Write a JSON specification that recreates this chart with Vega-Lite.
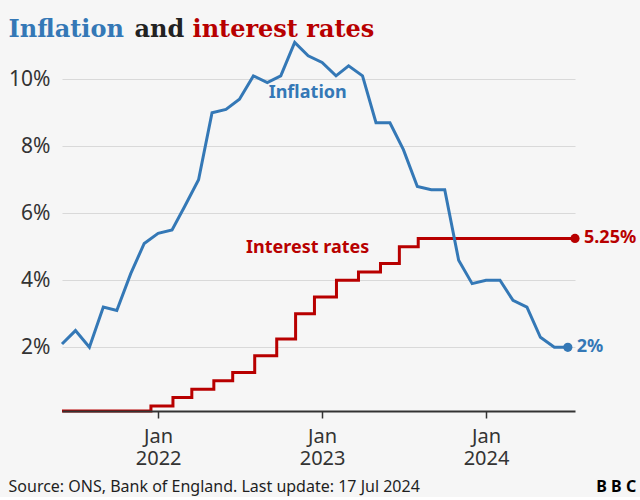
{
  "$schema": "https://vega.github.io/schema/vega-lite/v6.json",
  "background": "#f6f6f6",
  "padding": {"left": 8, "right": 4, "top": 18, "bottom": 2},
  "config": {"view": {"stroke": null}, "font": "Noto Sans", "concat": {"spacing": 0}},
  "datasets": {
    "inflation": [
      {"date": "2021-06-01", "value": 2.1, "series": "Inflation"},
      {"date": "2021-07-01", "value": 2.5, "series": "Inflation"},
      {"date": "2021-08-01", "value": 2.0, "series": "Inflation"},
      {"date": "2021-09-01", "value": 3.2, "series": "Inflation"},
      {"date": "2021-10-01", "value": 3.1, "series": "Inflation"},
      {"date": "2021-11-01", "value": 4.2, "series": "Inflation"},
      {"date": "2021-12-01", "value": 5.1, "series": "Inflation"},
      {"date": "2022-01-01", "value": 5.4, "series": "Inflation"},
      {"date": "2022-02-01", "value": 5.5, "series": "Inflation"},
      {"date": "2022-03-01", "value": 6.2, "series": "Inflation"},
      {"date": "2022-04-01", "value": 7.0, "series": "Inflation"},
      {"date": "2022-05-01", "value": 9.0, "series": "Inflation"},
      {"date": "2022-06-01", "value": 9.1, "series": "Inflation"},
      {"date": "2022-07-01", "value": 9.4, "series": "Inflation"},
      {"date": "2022-08-01", "value": 10.1, "series": "Inflation"},
      {"date": "2022-09-01", "value": 9.9, "series": "Inflation"},
      {"date": "2022-10-01", "value": 10.1, "series": "Inflation"},
      {"date": "2022-11-01", "value": 11.1, "series": "Inflation"},
      {"date": "2022-12-01", "value": 10.7, "series": "Inflation"},
      {"date": "2023-01-01", "value": 10.5, "series": "Inflation"},
      {"date": "2023-02-01", "value": 10.1, "series": "Inflation"},
      {"date": "2023-03-01", "value": 10.4, "series": "Inflation"},
      {"date": "2023-04-01", "value": 10.1, "series": "Inflation"},
      {"date": "2023-05-01", "value": 8.7, "series": "Inflation"},
      {"date": "2023-06-01", "value": 8.7, "series": "Inflation"},
      {"date": "2023-07-01", "value": 7.9, "series": "Inflation"},
      {"date": "2023-08-01", "value": 6.8, "series": "Inflation"},
      {"date": "2023-09-01", "value": 6.7, "series": "Inflation"},
      {"date": "2023-10-01", "value": 6.7, "series": "Inflation"},
      {"date": "2023-11-01", "value": 4.6, "series": "Inflation"},
      {"date": "2023-12-01", "value": 3.9, "series": "Inflation"},
      {"date": "2024-01-01", "value": 4.0, "series": "Inflation"},
      {"date": "2024-02-01", "value": 4.0, "series": "Inflation"},
      {"date": "2024-03-01", "value": 3.4, "series": "Inflation"},
      {"date": "2024-04-01", "value": 3.2, "series": "Inflation"},
      {"date": "2024-05-01", "value": 2.3, "series": "Inflation"},
      {"date": "2024-06-01", "value": 2.0, "series": "Inflation"},
      {"date": "2024-07-01", "value": 2.0, "series": "Inflation"}
    ],
    "rates": [
      {"date": "2021-06-01", "value": 0.1, "series": "Interest rates"},
      {"date": "2021-12-16", "value": 0.25, "series": "Interest rates"},
      {"date": "2022-02-03", "value": 0.5, "series": "Interest rates"},
      {"date": "2022-03-17", "value": 0.75, "series": "Interest rates"},
      {"date": "2022-05-05", "value": 1.0, "series": "Interest rates"},
      {"date": "2022-06-16", "value": 1.25, "series": "Interest rates"},
      {"date": "2022-08-04", "value": 1.75, "series": "Interest rates"},
      {"date": "2022-09-22", "value": 2.25, "series": "Interest rates"},
      {"date": "2022-11-03", "value": 3.0, "series": "Interest rates"},
      {"date": "2022-12-15", "value": 3.5, "series": "Interest rates"},
      {"date": "2023-02-02", "value": 4.0, "series": "Interest rates"},
      {"date": "2023-03-23", "value": 4.25, "series": "Interest rates"},
      {"date": "2023-05-11", "value": 4.5, "series": "Interest rates"},
      {"date": "2023-06-22", "value": 5.0, "series": "Interest rates"},
      {"date": "2023-08-03", "value": 5.25, "series": "Interest rates"},
      {"date": "2024-07-17", "value": 5.25, "series": "Interest rates"}
    ],
    "ends": [
      {"date": "2024-07-01", "value": 2.0, "series": "Inflation", "label": "2%"},
      {"date": "2024-07-17", "value": 5.25, "series": "Interest rates", "label": "5.25%"}
    ],
    "names": [
      {"date": "2022-11-30", "value": 9.59, "series": "Inflation", "label": "Inflation"},
      {"date": "2022-11-30", "value": 4.97, "series": "Interest rates", "label": "Interest rates"}
    ]
  },
  "title": {"text": "Source: ONS, Bank of England. Last update: 17 Jul 2024", "orient": "bottom", "anchor": "start", "font": "Noto Sans", "fontSize": 16, "fontWeight": "normal", "color": "#1f1f1f", "offset": 0, "dy": -16},
  "vconcat": [
    {
      "title": {"text": "B B C", "orient": "bottom", "anchor": "end", "font": "Noto Sans", "fontSize": 16, "fontWeight": "bold", "color": "#000000", "offset": 11},
      "vconcat": [
        {
          "title": {"text": "Inflation", "anchor": "start", "font": "DejaVu Serif", "fontSize": 24, "fontWeight": "bold", "color": "#3478b6", "offset": 0, "dy": 24},
          "vconcat": [
            {
              "title": {"text": "and", "anchor": "start", "font": "DejaVu Serif", "fontSize": 24, "fontWeight": "bold", "color": "#222222", "offset": 0, "dx": 126, "dy": 24},
              "vconcat": [
                {
                  "title": {"text": "interest rates", "anchor": "start", "font": "DejaVu Serif", "fontSize": 24, "fontWeight": "bold", "color": "#b80000", "offset": -6, "dx": 184},
                  "width": 513,
                  "height": 372,
                  "encoding": {
                    "x": {"field": "date", "type": "temporal",
                      "scale": {"type": "utc", "domain": [{"year": 2021, "month": 6, "date": 1, "utc": true}, {"year": 2024, "month": 7, "date": 17, "utc": true}]},
                      "axis": {"title": null, "zindex": 1, "grid": false, "domainColor": "#333333", "domainWidth": 2, "tickColor": "#333333", "tickWidth": 1.5, "tickSize": 7, "labelPadding": 8, "labelFont": "Noto Sans", "labelFontSize": 20, "labelColor": "#333333", "labelLineHeight": 22, "labelFlush": false,
                        "values": [{"year": 2022, "month": 1, "date": 1, "utc": true}, {"year": 2023, "month": 1, "date": 1, "utc": true}, {"year": 2024, "month": 1, "date": 1, "utc": true}],
                        "labelExpr": "['Jan', utcFormat(datum.value, '%Y')]"}},
                    "y": {"field": "value", "type": "quantitative",
                      "scale": {"domain": [0.1, 11.2], "nice": false, "zero": false},
                      "axis": {"title": null, "zindex": 0, "domain": false, "ticks": false, "tickSize": 0, "labelPadding": 12, "grid": true, "gridColor": "#d9d9d9", "gridWidth": 1, "values": [2, 4, 6, 8, 10], "labelFont": "Noto Sans", "labelFontSize": 21, "labelColor": "#333333", "labelExpr": "datum.value + '%'"}},
                    "color": {"field": "series", "type": "nominal", "scale": {"domain": ["Inflation", "Interest rates"], "range": ["#3478b6", "#b80000"]}, "legend": null}
                  },
                  "layer": [
                    {"data": {"name": "rates"}, "mark": {"type": "line", "strokeWidth": 3, "interpolate": "step-after"}},
                    {"data": {"name": "inflation"}, "mark": {"type": "line", "strokeWidth": 3, "interpolate": "linear"}},
                    {"data": {"name": "ends"}, "mark": {"type": "point", "filled": true, "opacity": 1, "size": 85}},
                    {"data": {"name": "ends"}, "mark": {"type": "text", "align": "left", "baseline": "middle", "dx": 9, "font": "Noto Sans", "fontSize": 18, "fontWeight": "bold"}, "encoding": {"text": {"field": "label"}}},
                    {"data": {"name": "names"}, "mark": {"type": "text", "align": "center", "baseline": "middle", "font": "Noto Sans", "fontSize": 18, "fontWeight": "bold"}, "encoding": {"text": {"field": "label"}}}
                  ]
                }
              ]
            }
          ]
        }
      ]
    }
  ]
}
